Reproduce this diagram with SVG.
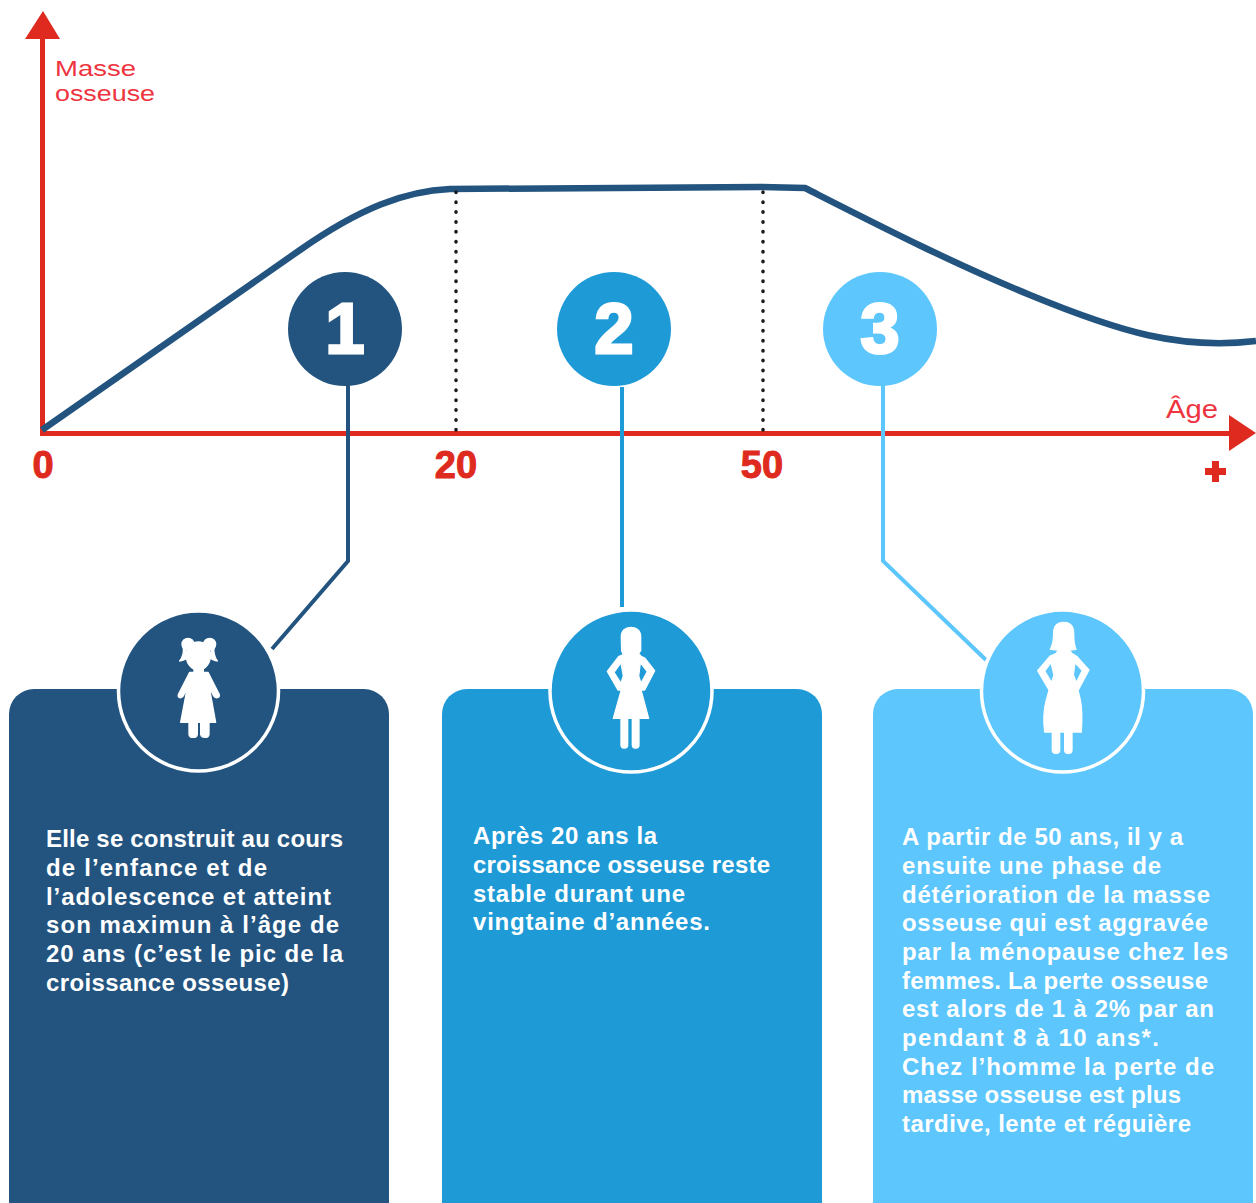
<svg xmlns="http://www.w3.org/2000/svg" width="1256" height="1203" viewBox="0 0 1256 1203">
<style>
text{font-family:"Liberation Sans",Arial,sans-serif}
.t{font-size:24px;font-weight:700;fill:#fff;stroke:none}
.axis{fill:#df2a20}
.lab{font-size:25px;fill:#ee3440}
.lab2{font-size:21.500px;fill:#ee3440}
.num{font-size:38px;font-weight:700;fill:#df2a20;text-anchor:middle;stroke:#df2a20;stroke-width:1}
.dig{font-size:70px;font-weight:700;fill:#fff;stroke:#fff;stroke-width:3;text-anchor:middle}
.ring{stroke:#fff;stroke-width:3.500}
.c1{fill:#22547f}.c2{fill:#1e9ad6}.c3{fill:#5cc6fd}
.dot{stroke:#1a1a1a;stroke-width:3.500;stroke-linecap:round;stroke-dasharray:.5 9.4;fill:none}
.fig{fill:#fff;fill-rule:evenodd;stroke:#fff;stroke-width:4;stroke-linejoin:round}
</style>
<rect width="1256" height="1203" fill="#fff"/>
<g id="axes">
<rect class="axis" x="40" y="36" width="5" height="397"/>
<polygon class="axis" points="43,11 25,39 60,39"/>
<rect class="axis" x="40" y="431" width="1192" height="5"/>
<polygon class="axis" points="1229,415 1256,433 1229,451"/>
<text class="lab2" x="55" y="76" textLength="81" lengthAdjust="spacingAndGlyphs">Masse</text>
<text class="lab2" x="55" y="101" textLength="100" lengthAdjust="spacingAndGlyphs">osseuse</text>
<text class="lab" x="1166" y="418" textLength="52" lengthAdjust="spacingAndGlyphs">Âge</text>
<text class="num" x="43" y="478">0</text>
<text class="num" x="456" y="478">20</text>
<text class="num" x="762" y="478">50</text>
<path class="axis" d="M1212 461h7v7h7v7h-7v7h-7v-7h-7v-7h7z"/>
</g>
<g id="curve">
<path d="M42 430L300 250C360 208 405 191 450 189L760 187L805 188C880 226 950 262 1030 295C1120 332 1180 350 1256 341" fill="none" stroke="#22547f" stroke-width="6.500"/>
<path class="dot" d="M456 192V430"/>
<path class="dot" d="M763 192V430"/>
</g>
<g id="connectors" fill="none" stroke-width="4">
<path d="M348 380V561L272 649" stroke="#22547f"/>
<path d="M622 387V607" stroke="#1e9ad6"/>
<path d="M883 380V561L986 660" stroke="#5cc6fd"/>
</g>
<g id="marker-1"><circle class="c1" cx="345" cy="329" r="57"/><text class="dig" x="345" y="353">1</text></g>
<g id="marker-2"><circle class="c2" cx="614" cy="329" r="57"/><text class="dig" x="614" y="353">2</text></g>
<g id="marker-3"><circle class="c3" cx="880" cy="329" r="57"/><text class="dig" x="880" y="353">3</text></g>
<g id="panel-1">
<rect class="c1" x="9" y="689" width="380" height="560" rx="25"/>
<circle class="c1 ring" cx="198.500" cy="691" r="80"/>
<g transform="translate(110 600) scale(.3333)">
<circle class="fig" cx="234" cy="133" r="18"/>
<circle class="fig" cx="299" cy="133" r="18"/>
<path class="fig" d="M220 140C222 160 218 172 209 183C222 181 230 176 236 168ZM312 140C310 160 314 172 322 183C310 181 302 176 296 168Z"/>
<ellipse class="fig" cx="265" cy="168" rx="36" ry="42"/>
<path class="fig" d="M252 200H280V217H294L328 284C330 294 316 297 311 288L298 262L317 367H297V403C296 415 274 415 272 403V367H262V403C261 415 238 415 237 403V367H212L232 262L220 288C214 297 202 294 205 284L239 217H252Z"/>
</g>
<text class="t"><tspan x="46" y="847" textLength="297">Elle se construit au cours</tspan><tspan x="46" y="876" textLength="221">de l’enfance et de</tspan><tspan x="46" y="905" textLength="285">l’adolescence et atteint</tspan><tspan x="46" y="933" textLength="293">son maximun à l’âge de</tspan><tspan x="46" y="962" textLength="297">20 ans (c’est le pic de la</tspan><tspan x="46" y="991" textLength="243">croissance osseuse)</tspan></text>
</g>
<g id="panel-2">
<rect class="c2" x="442" y="689" width="380" height="560" rx="25"/>
<circle class="c2 ring" cx="631" cy="691" r="81"/>
<g transform="translate(540 600) scale(.3333)">
<path class="fig" d="M244 110C244 92 256 82 273 82C290 82 302 92 302 110V152L296 160L302 168L314 174L344 212L314 270H303L326 355H220L244 270H234L202 214L236 170L250 164L245 152ZM243 188L222 217L243 250L250 228ZM301 188L322 215L303 250L296 228Z"/>
<rect class="fig" x="243" y="350" width="20" height="94" rx="9"/>
<rect class="fig" x="277" y="350" width="20" height="94" rx="9"/>
</g>
<text class="t"><tspan x="473" y="844" textLength="184">Après 20 ans la</tspan><tspan x="473" y="873" textLength="297">croissance osseuse reste</tspan><tspan x="473" y="902" textLength="212">stable durant une</tspan><tspan x="473" y="930" textLength="237">vingtaine d’années.</tspan></text>
</g>
<g id="panel-3">
<rect class="c3" x="873" y="689" width="380" height="560" rx="25"/>
<circle class="c3 ring" cx="1062.500" cy="691" r="81"/>
<g transform="translate(975 600) scale(.3333)">
<path class="fig" d="M226 148C234 135 236 118 236 100C236 78 248 67 266 67C286 67 296 80 296 100C296 118 297 135 303 148L284 150L290 160L306 170L342 210L310 270L304 250L316 300C322 330 321 365 319 396H209C205 365 206 330 214 300L228 250L222 270L188 212L226 168L244 160L250 150ZM228 188L209 213L230 248L237 225ZM300 188L322 212L304 248L295 225Z"/>
<rect class="fig" x="232" y="390" width="22" height="70" rx="10"/>
<rect class="fig" x="269" y="390" width="22" height="70" rx="10"/>
</g>
<text class="t"><tspan x="902" y="845" textLength="281">A partir de 50 ans, il y a</tspan><tspan x="902" y="874" textLength="259">ensuite une phase de</tspan><tspan x="902" y="903" textLength="308">détérioration de la masse</tspan><tspan x="902" y="931" textLength="306">osseuse qui est aggravée</tspan><tspan x="902" y="960" textLength="326">par la ménopause chez les</tspan><tspan x="902" y="989" textLength="306">femmes. La perte osseuse</tspan><tspan x="902" y="1017" textLength="312">est alors de 1 à 2% par an</tspan><tspan x="902" y="1046" textLength="257">pendant 8 à 10 ans*.</tspan><tspan x="902" y="1075" textLength="312">Chez l’homme la perte de</tspan><tspan x="902" y="1103" textLength="279">masse osseuse est plus</tspan><tspan x="902" y="1132" textLength="289">tardive, lente et réguière</tspan></text>
</g>
</svg>
